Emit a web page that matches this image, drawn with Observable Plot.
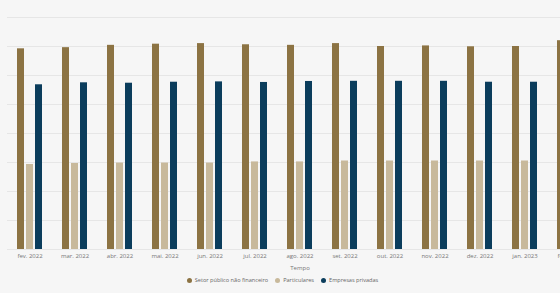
<!DOCTYPE html>
<html>
<head>
<meta charset="utf-8">
<script src="https://cdn.jsdelivr.net/npm/d3@7"></script>
<script src="https://cdn.jsdelivr.net/npm/@observablehq/plot@0.6"></script>
<style>
  html, body { margin: 0; padding: 0; background: #f6f6f6; width: 560px; height: 293px; overflow: hidden; font-family: "Open Sans", sans-serif; }
  #chart { width: 560px; height: 271px; overflow: hidden; }
  #chart svg { display: block; margin-left: -40px; background: #f6f6f6; max-width: none !important; width: 632px !important; height: 271px !important; }
  #legend { display: flex; justify-content: center; align-items: center; gap: 7px; font-size: 5.6px; color: #666; margin-top: 5px; margin-left: 5px; }
  #legend .item { display: flex; align-items: center; gap: 3px; }
  #legend .dot { width: 5px; height: 5px; border-radius: 50%; display: inline-block; }
</style>
</head>
<body>
<div id="chart"></div>
<div id="legend"></div>
<script>
const months = ["fev. 2022","mar. 2022","abr. 2022","mai. 2022","jun. 2022","jul. 2022","ago. 2022","set. 2022","out. 2022","nov. 2022","dez. 2022","jan. 2023","fev. 2023"];
const seriesNames = ["Setor público não financeiro","Particulares","Empresas privadas"];
const seriesColors = ["#8c7343","#c8b99b","#0b3d5c"];
const setorPublico = [346,348,352,354,355,353,352,355,350,351,349.5,350,360];
const particulares = [146.6,148.3,149,149,149,151,151,152.6,152.6,152.6,152.6,152.6,152.6];
const empresas = [284,287.4,286.7,288.4,289,288,289.7,290,290,290,288.4,288.4,289];
const yTicks = [0,50,100,150,200,250,300,350,400];

const seriesValues = [setorPublico, particulares, empresas];
const offsets = [-9, 0, 9];

const marks = [
  Plot.gridY(yTicks, {stroke: "#e6e6e6", strokeOpacity: 1, strokeWidth: 1})
];
seriesValues.forEach((vals, i) => {
  const data = months.map((m, j) => ({month: m, value: vals[j], series: seriesNames[i]}));
  marks.push(Plot.barY(data, {x: "month", y: "value", fill: seriesColors[i], insetLeft: 9, insetRight: 9, dx: offsets[i]}));
});
marks.push(Plot.axisX({tickSize: 0, tickPadding: 4, fontSize: 6, fill: "#777", label: "Tempo", labelAnchor: "center", labelOffset: 20}));

const chart = Plot.plot({
  width: 632,
  height: 271,
  marginLeft: 47,
  marginRight: 0,
  marginTop: 17,
  marginBottom: 22,
  style: {fontFamily: "Open Sans", background: "#f6f6f6", color: "#777", maxWidth: "none"},
  x: {type: "band", domain: months, paddingInner: 0.444, paddingOuter: 0.222},
  y: {domain: [0, 400], axis: null},
  marks
});
document.getElementById("chart").appendChild(chart);

const legend = document.getElementById("legend");
seriesNames.forEach((name, i) => {
  const item = document.createElement("span");
  item.className = "item";
  const dot = document.createElement("span");
  dot.className = "dot";
  dot.style.background = seriesColors[i];
  const label = document.createElement("span");
  label.textContent = name;
  item.appendChild(dot);
  item.appendChild(label);
  legend.appendChild(item);
});
</script>
</body>
</html>
